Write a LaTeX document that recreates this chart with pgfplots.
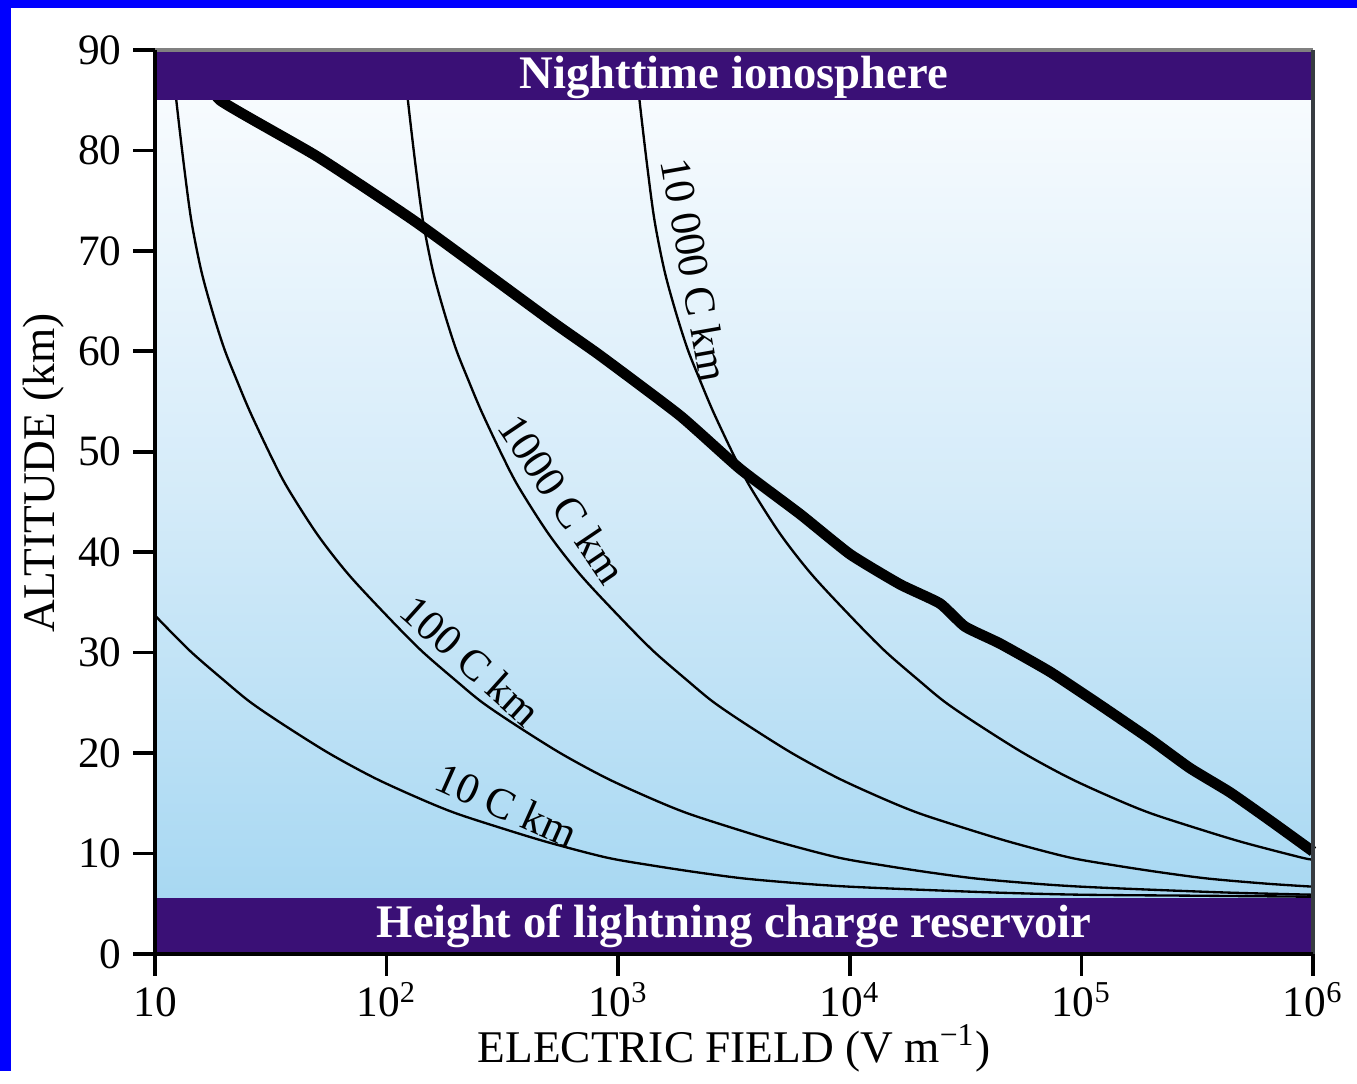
\documentclass[border=0pt]{standalone}
\usepackage{fontspec}
\setmainfont{Liberation Serif}
\usepackage{pgfplots}
\usepackage{pgfplotstable}
\pgfplotsset{compat=1.18}
\definecolor{band}{RGB}{58,16,118}
\definecolor{skytop}{RGB}{247,251,254}
\definecolor{skymid}{RGB}{212,235,249}
\definecolor{skybot}{RGB}{168,216,242}
\definecolor{border}{RGB}{0,0,255}
\definecolor{rightax}{RGB}{55,60,65}
% columns: log10(E), altitude (km)
\pgfplotstableread{
lx y
1.00 33.7
1.15 30.2
1.30 27.2
1.41 25.1
1.55 22.9
1.75 20.0
1.95 17.5
2.15 15.4
2.30 14.0
2.50 12.5
2.70 11.1
2.95 9.6
3.15 8.8
3.35 8.1
3.55 7.5
3.80 7.0
4.00 6.7
4.30 6.4
4.65 6.1
5.00 5.9
5.50 5.8
6.00 5.7
}\tenC
\pgfplotstableread{
lx y
1.075 89.0
1.092 85.0
1.125 78.5
1.157 73.0
1.200 68.0
1.250 63.8
1.300 60.2
1.350 57.3
1.410 54.0
1.500 49.6
1.570 46.5
1.700 41.8
1.835 37.8
2.000 33.7
2.150 30.2
2.300 27.2
2.410 25.1
2.550 22.9
2.750 20.0
2.950 17.5
3.150 15.4
3.300 14.0
3.500 12.5
3.700 11.1
3.950 9.6
4.150 8.8
4.350 8.1
4.550 7.5
4.800 7.0
5.000 6.7
5.300 6.4
5.650 6.1
6.000 5.9
}\hundredC
\pgfplotstableread{
lx y
2.075 89.0
2.092 85.0
2.125 78.5
2.157 73.0
2.200 68.0
2.250 63.8
2.300 60.2
2.350 57.3
2.410 54.0
2.500 49.6
2.570 46.5
2.700 41.8
2.835 37.8
3.000 33.7
3.150 30.2
3.300 27.2
3.410 25.1
3.550 22.9
3.750 20.0
3.950 17.5
4.150 15.4
4.300 14.0
4.500 12.5
4.700 11.1
4.950 9.6
5.150 8.8
5.350 8.1
5.550 7.5
5.800 7.0
6.000 6.7
}\thousandC
\pgfplotstableread{
lx y
3.075 89.0
3.092 85.0
3.125 78.5
3.157 73.0
3.200 68.0
3.250 63.8
3.300 60.2
3.350 57.3
3.410 54.0
3.500 49.6
3.570 46.5
3.700 41.8
3.835 37.8
4.000 33.7
4.150 30.2
4.300 27.2
4.410 25.1
4.550 22.9
4.750 20.0
4.950 17.5
5.150 15.4
5.300 14.0
5.500 12.5
5.700 11.1
5.950 9.6
6.000 9.4
}\tenthousandC
\pgfplotstableread{
lx y
1.240 87.5
1.281 85.0
1.700 79.4
2.131 72.8
2.706 63.1
2.921 59.6
3.267 53.6
3.526 48.3
3.785 43.8
4.001 39.8
4.217 36.8
4.389 34.9
4.497 32.6
4.649 30.9
4.864 28.1
5.080 24.8
5.296 21.4
5.469 18.5
5.641 16.1
5.814 13.3
6.000 10.2
}\breakdown
\begin{document}
\begin{tikzpicture}
\begin{axis}[
  at={(0,0)}, anchor=south west,
  scale only axis, width=347.4pt, height=271.2pt,
  xmode=log, xmin=10, xmax=1e6, ymin=0, ymax=90,
  axis x line*=bottom, axis y line*=left,
  axis line style={line width=1.2pt, -},
  xtick={10,100,1000,10000,100000,1000000},
  xticklabels={10,10\textsuperscript{2},10\textsuperscript{3},10\textsuperscript{4},10\textsuperscript{5},10\textsuperscript{6}},
  xminorticks=false,
  ytick={0,10,20,30,40,50,60,70,80,90},
  tick align=outside, major tick length=6.5pt,
  tick style={line width=1.1pt, black},
  tick label style={font=\fontsize{13}{15}\selectfont},
  xticklabel style={anchor=base, yshift=-12.4pt},
  /pgf/number format/assume math mode=true,
  clip=false,
  axis on top,
]
% sky gradient
\shade[bottom color=skybot, top color=skytop, middle color=skymid] (axis cs:10,5.6) rectangle (axis cs:1e6,85);

\addplot[black, line width=0.7pt, smooth, tension=0.5] table[x expr={10^(\thisrow{lx})}, y=y] {\tenC};
\addplot[black, line width=0.7pt, smooth, tension=0.5] table[x expr={10^(\thisrow{lx})}, y=y] {\hundredC};
\addplot[black, line width=0.7pt, smooth, tension=0.5] table[x expr={10^(\thisrow{lx})}, y=y] {\thousandC};
\addplot[black, line width=0.7pt, smooth, tension=0.5] table[x expr={10^(\thisrow{lx})}, y=y] {\tenthousandC};
\addplot[black, line width=3.2pt, line join=round, smooth, tension=0.3] table[x expr={10^(\thisrow{lx})}, y=y] {\breakdown};

% bands
\fill[band] (rel axis cs:0,0) rectangle (rel axis cs:1,5.6/90);
\fill[band] (rel axis cs:0,85/90) rectangle (rel axis cs:1,1);
\draw[gray, line width=1.4pt] (rel axis cs:0,1) -- (rel axis cs:1,1);
\draw[rightax, line width=1.3pt] (rel axis cs:1,0) -- (rel axis cs:1,1);

\node[anchor=base, text=white, font=\fontsize{14}{16}\selectfont\bfseries] at (rel axis cs:0.5,86.2/90) {Nighttime ionosphere};
\node[anchor=base, text=white, font=\fontsize{14}{16}\selectfont\bfseries] at (rel axis cs:0.5,1.6/90) {Height of lightning charge reservoir};

% curve labels
\node[rotate=-80, font=\fontsize{13}{15}\selectfont] at (axis cs:2148,68.1) {10 000 C km};
\node[rotate=-56, font=\fontsize{13}{15}\selectfont] at (axis cs:575,45.3) {1000 C km};
\node[rotate=-42, font=\fontsize{13}{15}\selectfont] at (axis cs:232,29.2) {100 C km};
\node[rotate=-24, font=\fontsize{13}{15}\selectfont] at (axis cs:330,14.8) {10 C km};

% axis labels
\node[anchor=base, font=\fontsize{13.6}{16}\selectfont] at ([yshift=-32.7pt]rel axis cs:0.5,0) {ELECTRIC FIELD (V m\textsuperscript{−1})};
\node[anchor=base, rotate=90, font=\fontsize{13.6}{16}\selectfont] at ([xshift=-30pt]rel axis cs:0,47.9/90) {ALTITUDE (km)};
\end{axis}
\fill[border] (-46.5pt,-35.1pt) rectangle (-43.2pt,286.2pt);
\fill[border] (-46.5pt,283.8pt) rectangle (360.6pt,286.2pt);
\useasboundingbox (-46.5pt,-35.1pt) rectangle (360.6pt,286.2pt);
\end{tikzpicture}
\end{document}
